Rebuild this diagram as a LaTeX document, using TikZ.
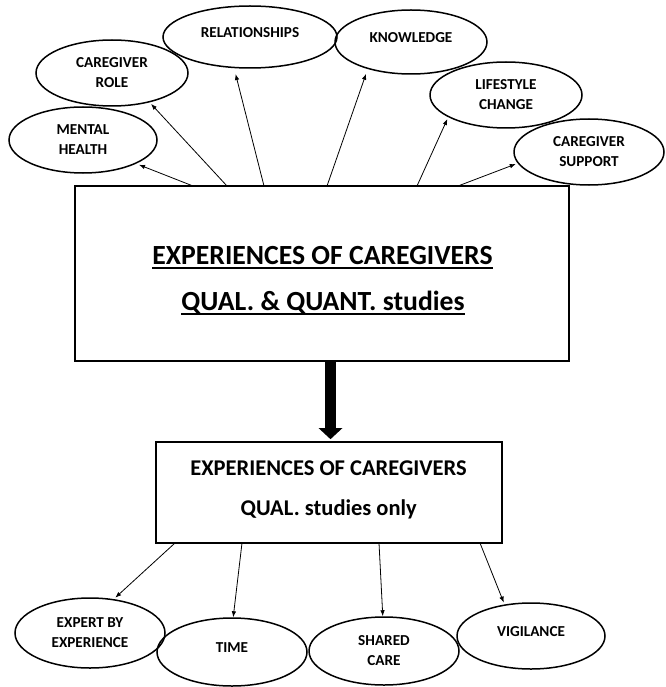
\documentclass[tikz,border=0pt]{standalone}
\usepackage{fontspec}
\setmainfont{Carlito}
\usetikzlibrary{shapes.geometric,arrows.meta}
\newcommand\myul[1]{\sbox0{#1}\rlap{\rule[-4.6pt]{\wd0}{1.4pt}}\usebox0}
\begin{document}
\begin{tikzpicture}[x=1pt,y=-1pt,
  oval/.style={ellipse,draw,line width=1.5pt,inner sep=0pt,align=center,
    font=\bfseries\fontsize{15.2}{20}\selectfont},
  one/.style={text depth=9pt},
  conn/.style={line width=0.8pt,-{Latex[length=6pt,width=4.5pt]}},
  box/.style={draw,line width=1.6pt,rectangle,inner sep=0pt},
  bigtxt/.style={anchor=base,inner sep=0pt,font=\bfseries\fontsize{27.7}{30}\selectfont},
  midtxt/.style={anchor=base,inner sep=0pt,font=\bfseries\fontsize{22.5}{26}\selectfont}]
\useasboundingbox (0,0) rectangle (665,687);

% boxes
\node[box,minimum width=494pt,minimum height=175pt] (big) at (322,273.5) {};
\node[box,minimum width=346pt,minimum height=101pt] (small) at (329,492.5) {};

\node[bigtxt] (t1) at (322.5,264) {\myul{EXPERIENCES OF CAREGIVERS}};
\node[bigtxt] (t2) at (323,310) {\myul{QUAL. \& QUANT. studies}};
\node[midtxt] (s1) at (328.5,475) {EXPERIENCES OF CAREGIVERS};
\node[midtxt] (s2) at (328.7,515) {QUAL. studies only};

% upper ellipses
\node[oval,minimum width=148pt,minimum height=66pt] (men) at (83,140) {MENTAL\\HEALTH};
\node[oval,minimum width=152pt,minimum height=66pt] (rol) at (112,73) {CAREGIVER\\ROLE};
\node[oval,one,minimum width=174pt,minimum height=62pt] (rel) at (250,37) {RELATIONSHIPS};
\node[oval,one,minimum width=152pt,minimum height=64pt] (kno) at (411,42) {KNOWLEDGE};
\node[oval,minimum width=152pt,minimum height=66pt] (lif) at (506,95) {LIFESTYLE\\CHANGE};
\node[oval,minimum width=150pt,minimum height=66pt] (sup) at (589,152) {CAREGIVER\\SUPPORT};

% lower ellipses
\node[oval,minimum width=150pt,minimum height=70pt] (exp) at (90,633) {EXPERT BY\\EXPERIENCE};
\node[oval,one,minimum width=150pt,minimum height=68pt] (tim) at (232,652) {TIME};
\node[oval,minimum width=150pt,minimum height=68pt] (sha) at (384,651) {SHARED\\CARE};
\node[oval,one,minimum width=148pt,minimum height=66pt] (vig) at (531,636) {VIGILANCE};

% start points of connectors
\coordinate (u1) at (193,186);
\coordinate (u2) at (227,186);
\coordinate (u3) at (264,186);
\coordinate (u4) at (327,186);
\coordinate (u5) at (417,186);
\coordinate (u6) at (458,186);
\coordinate (d1) at (175,543);
\coordinate (d2) at (242,543);
\coordinate (d3) at (379,543);
\coordinate (d4) at (480,543);
\coordinate (b1) at (330.5,361);

\draw[conn,shorten >=3pt] (u1) -- (men.336);
\draw[conn,shorten >=2pt] (u2) -- (rol.322);
\draw[conn,shorten >=6pt] (u3) -- (rel.243);
\draw[conn,shorten >=5pt] (u4) -- (kno.212);
\draw[conn,shorten >=2pt] (u5) -- (lif.201);
\draw[conn,shorten >=2pt] (u6) -- (sup.189);

\draw[conn,shorten >=2pt] (d1) -- (exp.55);
\draw[conn] (d2) -- (tim.88);
\draw[conn] (d3) -- (sha.92);
\draw[conn,shorten >=2pt] (d4) -- (vig.130);

\draw[line width=11pt,shorten >=2pt,-{Triangle[length=11pt 0,width=23pt 0]}] (b1) -- (b1 |- small.north);
\end{tikzpicture}
\end{document}
